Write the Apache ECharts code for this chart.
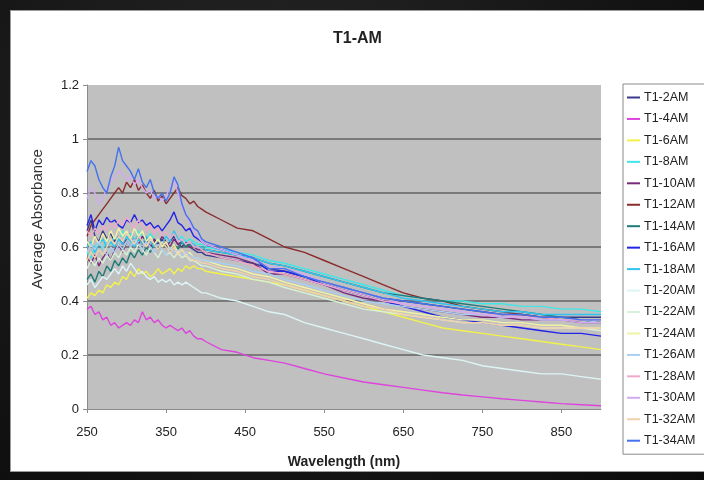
<!DOCTYPE html>
<html>
<head>
<meta charset="utf-8">
<script src="https://cdn.jsdelivr.net/npm/echarts@6/dist/echarts.min.js"></script>
<style>
  html, body { margin: 0; padding: 0; width: 704px; height: 480px; overflow: hidden;
    background: radial-gradient(ellipse at 40% 30%, #2a2a2a 0%, #151515 60%, #0b0b0b 100%); }
  #panel { position: absolute; left: 10px; top: 10px; width: 694px; height: 462px;
    background: #ffffff; box-sizing: border-box; border: 1px solid #9a9a9a; border-right: none; }
  #chart { width: 693px; height: 460px; }
</style>
</head>
<body>
<div id="panel"><div id="chart"></div></div>
<script>
const wavelengths = [250,255,260,265,270,275,280,285,290,295,300,305,310,315,320,325,330,335,340,345,350,355,360,365,370,375,380,385,390,395,400,420,440,460,480,500,525,550,575,600,625,650,675,700,725,750,775,800,825,850,875,900];

const xTickLabels = [250,350,450,550,650,750,850];

const seriesNames = ['T1-2AM','T1-4AM','T1-6AM','T1-8AM','T1-10AM','T1-12AM','T1-14AM','T1-16AM','T1-18AM','T1-20AM','T1-22AM','T1-24AM','T1-26AM','T1-28AM','T1-30AM','T1-32AM','T1-34AM'];

const t1_2AM  = [0.66,0.70,0.64,0.62,0.66,0.63,0.65,0.62,0.64,0.61,0.63,0.65,0.62,0.64,0.61,0.63,0.60,0.62,0.61,0.63,0.60,0.62,0.64,0.61,0.60,0.62,0.60,0.59,0.58,0.58,0.57,0.56,0.55,0.54,0.52,0.51,0.49,0.47,0.45,0.43,0.41,0.40,0.39,0.38,0.37,0.36,0.35,0.35,0.34,0.34,0.34,0.34];
const t1_4AM  = [0.37,0.38,0.35,0.36,0.33,0.34,0.31,0.32,0.30,0.31,0.32,0.31,0.33,0.32,0.36,0.33,0.34,0.32,0.33,0.31,0.30,0.31,0.30,0.29,0.30,0.28,0.29,0.27,0.26,0.26,0.25,0.22,0.21,0.19,0.18,0.17,0.15,0.13,0.115,0.10,0.09,0.08,0.07,0.06,0.052,0.045,0.038,0.032,0.026,0.02,0.016,0.012];
const t1_6AM  = [0.41,0.43,0.42,0.44,0.43,0.46,0.45,0.47,0.46,0.49,0.48,0.51,0.49,0.52,0.50,0.51,0.49,0.50,0.52,0.50,0.51,0.52,0.50,0.52,0.51,0.53,0.52,0.53,0.52,0.52,0.51,0.50,0.49,0.48,0.47,0.46,0.44,0.42,0.40,0.38,0.36,0.34,0.32,0.30,0.29,0.28,0.27,0.26,0.25,0.24,0.23,0.22];
const t1_8AM  = [0.58,0.56,0.60,0.62,0.59,0.63,0.61,0.64,0.62,0.66,0.63,0.65,0.62,0.66,0.64,0.62,0.65,0.63,0.61,0.64,0.66,0.63,0.65,0.62,0.64,0.62,0.63,0.62,0.61,0.61,0.60,0.59,0.58,0.57,0.55,0.54,0.52,0.50,0.48,0.46,0.44,0.42,0.41,0.40,0.40,0.39,0.39,0.38,0.38,0.37,0.37,0.36];
const t1_10AM = [0.56,0.54,0.57,0.53,0.56,0.58,0.55,0.59,0.61,0.58,0.62,0.60,0.63,0.61,0.64,0.62,0.60,0.63,0.61,0.64,0.62,0.60,0.63,0.61,0.62,0.61,0.60,0.60,0.59,0.59,0.58,0.57,0.56,0.54,0.50,0.50,0.48,0.46,0.43,0.41,0.40,0.38,0.37,0.36,0.35,0.34,0.34,0.33,0.33,0.33,0.32,0.32];
const t1_12AM = [0.64,0.68,0.70,0.72,0.74,0.76,0.78,0.80,0.82,0.80,0.84,0.82,0.85,0.81,0.83,0.80,0.78,0.81,0.77,0.79,0.76,0.78,0.80,0.82,0.79,0.78,0.76,0.77,0.75,0.74,0.73,0.70,0.67,0.66,0.63,0.60,0.58,0.55,0.52,0.49,0.46,0.43,0.41,0.40,0.38,0.37,0.36,0.35,0.34,0.33,0.33,0.32];
const t1_14AM = [0.48,0.50,0.47,0.51,0.49,0.53,0.51,0.55,0.53,0.56,0.54,0.58,0.56,0.59,0.57,0.60,0.58,0.61,0.59,0.62,0.60,0.58,0.61,0.59,0.62,0.60,0.61,0.60,0.60,0.59,0.59,0.58,0.57,0.56,0.54,0.53,0.51,0.49,0.47,0.45,0.43,0.42,0.41,0.40,0.39,0.38,0.37,0.36,0.35,0.34,0.33,0.32];
const t1_16AM = [0.68,0.72,0.66,0.70,0.68,0.71,0.69,0.70,0.68,0.67,0.70,0.69,0.72,0.69,0.70,0.68,0.69,0.67,0.68,0.66,0.68,0.70,0.73,0.69,0.68,0.66,0.67,0.64,0.63,0.62,0.61,0.59,0.57,0.56,0.51,0.51,0.49,0.46,0.44,0.42,0.40,0.38,0.36,0.34,0.33,0.32,0.31,0.30,0.29,0.28,0.28,0.27];
const t1_18AM = [0.60,0.62,0.58,0.61,0.63,0.60,0.62,0.60,0.63,0.61,0.64,0.62,0.60,0.63,0.61,0.64,0.62,0.60,0.63,0.61,0.64,0.62,0.66,0.63,0.62,0.61,0.62,0.61,0.60,0.60,0.59,0.58,0.57,0.56,0.54,0.53,0.51,0.49,0.47,0.45,0.43,0.41,0.40,0.39,0.38,0.37,0.36,0.36,0.35,0.35,0.35,0.35];
const t1_20AM = [0.46,0.48,0.45,0.47,0.49,0.48,0.50,0.52,0.50,0.53,0.51,0.54,0.52,0.50,0.51,0.49,0.48,0.49,0.47,0.48,0.47,0.48,0.46,0.47,0.46,0.47,0.46,0.45,0.44,0.43,0.43,0.41,0.40,0.38,0.36,0.35,0.32,0.30,0.28,0.26,0.24,0.22,0.20,0.19,0.18,0.16,0.15,0.14,0.13,0.13,0.12,0.11];
const t1_22AM = [0.52,0.55,0.53,0.56,0.54,0.57,0.55,0.58,0.56,0.59,0.57,0.60,0.58,0.61,0.59,0.57,0.60,0.58,0.56,0.59,0.57,0.58,0.56,0.58,0.56,0.57,0.55,0.55,0.54,0.53,0.53,0.51,0.50,0.48,0.47,0.45,0.43,0.41,0.39,0.37,0.36,0.35,0.34,0.33,0.32,0.32,0.31,0.31,0.30,0.30,0.30,0.29];
const t1_24AM = [0.62,0.60,0.64,0.61,0.65,0.62,0.66,0.63,0.67,0.64,0.66,0.63,0.67,0.64,0.66,0.62,0.64,0.61,0.63,0.60,0.62,0.59,0.61,0.58,0.59,0.57,0.58,0.56,0.56,0.55,0.55,0.53,0.52,0.50,0.49,0.47,0.45,0.43,0.41,0.39,0.37,0.36,0.35,0.34,0.33,0.33,0.32,0.32,0.31,0.31,0.30,0.30];
const t1_26AM = [0.58,0.61,0.59,0.62,0.60,0.57,0.60,0.58,0.61,0.59,0.62,0.60,0.63,0.61,0.59,0.62,0.60,0.58,0.61,0.59,0.57,0.60,0.58,0.59,0.57,0.58,0.57,0.56,0.56,0.55,0.55,0.54,0.53,0.51,0.50,0.48,0.46,0.44,0.42,0.40,0.39,0.38,0.37,0.36,0.35,0.35,0.34,0.34,0.33,0.33,0.33,0.32];
const t1_28AM = [0.66,0.64,0.67,0.65,0.68,0.66,0.69,0.67,0.70,0.68,0.71,0.69,0.67,0.70,0.68,0.66,0.68,0.65,0.67,0.64,0.66,0.63,0.65,0.62,0.63,0.61,0.62,0.60,0.60,0.59,0.58,0.56,0.55,0.53,0.51,0.50,0.48,0.46,0.44,0.42,0.40,0.39,0.38,0.37,0.36,0.35,0.35,0.34,0.34,0.33,0.33,0.33];
const t1_30AM = [0.78,0.82,0.80,0.76,0.78,0.82,0.84,0.86,0.88,0.87,0.85,0.86,0.83,0.85,0.82,0.80,0.81,0.78,0.79,0.77,0.79,0.82,0.85,0.80,0.75,0.72,0.69,0.66,0.64,0.62,0.61,0.59,0.57,0.55,0.53,0.52,0.50,0.47,0.45,0.43,0.41,0.39,0.38,0.37,0.36,0.35,0.34,0.34,0.33,0.33,0.32,0.32];
const t1_32AM = [0.55,0.58,0.56,0.59,0.57,0.60,0.63,0.61,0.64,0.62,0.65,0.63,0.61,0.64,0.62,0.60,0.63,0.61,0.59,0.62,0.60,0.58,0.60,0.57,0.59,0.57,0.56,0.55,0.55,0.54,0.54,0.52,0.51,0.49,0.48,0.46,0.44,0.42,0.40,0.38,0.37,0.35,0.34,0.33,0.32,0.32,0.31,0.31,0.30,0.30,0.30,0.30];
const t1_34AM = [0.88,0.92,0.90,0.85,0.82,0.80,0.86,0.90,0.97,0.92,0.90,0.88,0.85,0.89,0.84,0.82,0.85,0.80,0.78,0.80,0.77,0.80,0.86,0.83,0.76,0.72,0.70,0.67,0.66,0.63,0.62,0.60,0.58,0.56,0.52,0.52,0.49,0.47,0.45,0.43,0.41,0.40,0.39,0.38,0.37,0.36,0.35,0.35,0.34,0.34,0.33,0.33];

const seriesValues = [t1_2AM,t1_4AM,t1_6AM,t1_8AM,t1_10AM,t1_12AM,t1_14AM,t1_16AM,t1_18AM,t1_20AM,t1_22AM,t1_24AM,t1_26AM,t1_28AM,t1_30AM,t1_32AM,t1_34AM];

const colors = ['#3a3a8a','#dd44dd','#f2f24a','#40e6e6','#7a2a7a','#8a2c2c','#1f7a7a','#2424e6','#30c4ee','#dcf4f4','#d6f2d6','#f2f2a4','#aacdf2','#f2a8cc','#d2aaf2','#f2d0aa','#4472ee'];

const FONT = '"Liberation Sans", Arial, sans-serif';

const chart = echarts.init(document.getElementById('chart'), null, { renderer: 'canvas' });

const series = seriesNames.map((name, i) => ({
  name: name,
  type: 'line',
  data: wavelengths.map((w, j) => [w, seriesValues[i][j]]),
  symbol: 'none',
  smooth: false,
  lineStyle: { width: 1.4, color: colors[i] },
  itemStyle: { color: colors[i] },
  emphasis: { disabled: true },
  animation: false
}));

chart.setOption({
  backgroundColor: '#ffffff',
  animation: false,
  color: colors,
  title: {
    text: 'T1-AM',
    left: 'center',
    top: 15,
    textStyle: { fontFamily: FONT, fontSize: 16, fontWeight: 'bold', color: '#222' }
  },
  grid: {
    show: true,
    left: 76, top: 74, right: 103, bottom: 62,
    outerBoundsMode: 'none',
    containLabel: false,
    backgroundColor: '#c0c0c0',
    borderWidth: 0
  },
  legend: {
    orient: 'vertical',
    left: 612, top: 73,
    padding: [7, 20, 7, 4],
    itemGap: 8.45,
    itemWidth: 13,
    itemHeight: 2,
    icon: 'rect',
    backgroundColor: '#ffffff',
    borderColor: '#8a8a8a',
    borderWidth: 1,
    textStyle: { fontFamily: FONT, fontSize: 12.5, color: '#222', padding: [0, 0, 0, -1] },
    data: seriesNames
  },
  xAxis: {
    type: 'value',
    min: 250, max: 900,
    name: 'Wavelength (nm)',
    nameLocation: 'middle',
    nameGap: 46,
    nameTextStyle: { fontFamily: FONT, fontSize: 14, fontWeight: 'bold', color: '#222' },
    axisLine: { show: true, onZero: false, lineStyle: { color: '#8c8c8c', width: 1 } },
    axisTick: { show: true, customValues: xTickLabels, length: 4, lineStyle: { color: '#8c8c8c' } },
    axisLabel: { customValues: xTickLabels, fontFamily: FONT, fontSize: 13, color: '#222', margin: 17 },
    splitLine: { show: false }
  },
  yAxis: {
    type: 'value',
    min: 0, max: 1.2, interval: 0.2,
    name: 'Average Absorbance',
    nameLocation: 'middle',
    nameGap: 42,
    nameTextStyle: { fontFamily: FONT, fontSize: 15, color: '#333', padding: [0, 0, 0, 56] },
    axisLine: { show: true, lineStyle: { color: '#8c8c8c', width: 1 } },
    axisTick: { show: true, length: 4, lineStyle: { color: '#8c8c8c' } },
    axisLabel: { fontFamily: FONT, fontSize: 13, color: '#222', margin: 8 },
    splitLine: { show: true, showMinLine: false, showMaxLine: false, lineStyle: { color: '#7a7a7a', width: 2 } }
  },
  series: series
});
</script>
</body>
</html>
